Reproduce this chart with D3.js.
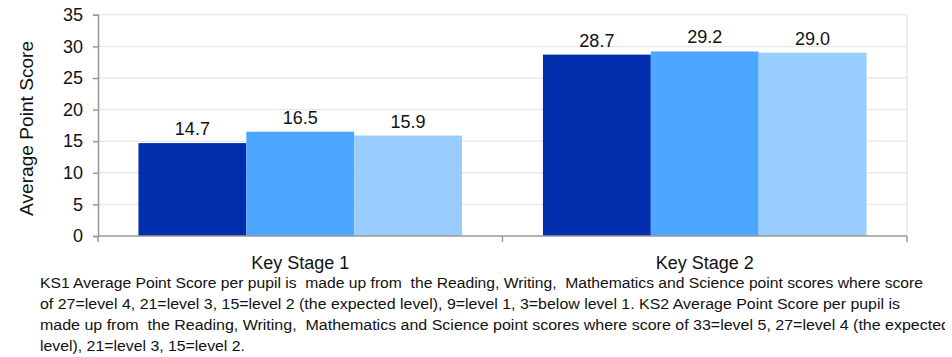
<!DOCTYPE html>
<html><head><meta charset="utf-8">
<script src="https://cdn.jsdelivr.net/npm/d3@7"></script>
<style>body{margin:0;background:#fff}svg{display:block;font-family:"Liberation Sans",Arial,sans-serif}</style>
</head><body><svg id="c" width="952" height="357"></svg>
<script>
const categories = ["Key Stage 1", "Key Stage 2"];
const seriesNames = ["School", "Local Authority", "National"];
const school = [14.7, 28.7];
const localAuthority = [16.5, 29.2];
const national = [15.9, 29.0];
const yTicks = [0, 5, 10, 15, 20, 25, 30, 35];
const yTitle = "Average Point Score";
const footnoteLines = [
  "KS1 Average Point Score per pupil is  made up from  the Reading, Writing,  Mathematics and Science point scores where score",
  "of 27=level 4, 21=level 3, 15=level 2 (the expected level), 9=level 1, 3=below level 1. KS2 Average Point Score per pupil is",
  "made up from  the Reading, Writing,  Mathematics and Science point scores where score of 33=level 5, 27=level 4 (the expected",
  "level), 21=level 3, 15=level 2."
];
const colors = ["#002EAD", "#4DA6FF", "#99CCFF"];

const seriesVals = [school, localAuthority, national];
const svg = d3.select("#c");
const L = 98, R = 907, T = 14.8, B = 236;
const x = d3.scaleBand().domain(categories).range([L, R]).paddingInner(0.2).paddingOuter(0.1);
const xs = d3.scaleBand().domain(seriesNames).range([0, x.bandwidth()]);
const y = d3.scaleLinear().domain([0, 35]).range([B, T]);

svg.append("defs").append("clipPath").attr("id", "fnclip")
  .append("rect").attr("x", 0).attr("y", 260).attr("width", 945).attr("height", 97);

// gridlines
svg.append("g").selectAll("line").data(yTicks.filter(d => d > 0)).join("line")
  .attr("x1", L).attr("x2", R).attr("y1", d => y(d)).attr("y2", d => y(d))
  .attr("stroke", "#e9e9e9").attr("stroke-width", 1.5);
svg.append("line").attr("x1", R).attr("x2", R).attr("y1", y(35)).attr("y2", B)
  .attr("stroke", "#e9e9e9").attr("stroke-width", 1.5);

// bars
const g = svg.append("g");
categories.forEach((c, ci) => {
  seriesNames.forEach((s, si) => {
    const v = seriesVals[si][ci];
    g.append("rect").attr("x", x(c) + xs(s)).attr("width", xs.bandwidth())
      .attr("y", y(v)).attr("height", B - y(v)).attr("fill", colors[si]);
    g.append("text").attr("x", x(c) + xs(s) + xs.bandwidth() / 2).attr("y", y(v) - 8)
      .attr("text-anchor", "middle").attr("font-size", 18).attr("fill", "#111")
      .text(v.toFixed(1));
  });
});

// y axis
const ya = svg.append("g").attr("transform", `translate(${L},0)`)
  .call(d3.axisLeft(y).tickValues(yTicks).tickSize(5).tickPadding(10));
ya.select(".domain").attr("stroke", "#999").attr("stroke-width", 1.5);
ya.selectAll(".tick line").attr("stroke", "#999").attr("stroke-width", 1.5);
ya.selectAll(".tick text").attr("font-size", 18).attr("fill", "#111").attr("font-family", "Liberation Sans, Arial, sans-serif");

// x axis
const xa = svg.append("g").attr("transform", `translate(0,${B})`);
xa.append("line").attr("x1", L).attr("x2", R).attr("stroke", "#999").attr("stroke-width", 1.5);
const bounds = [L, (x(categories[0]) + x.bandwidth() + x(categories[1])) / 2, R];
xa.selectAll(".bt").data(bounds).join("line").attr("class", "bt")
  .attr("x1", d => d).attr("x2", d => d).attr("y1", 0).attr("y2", 6)
  .attr("stroke", "#999").attr("stroke-width", 1.5);
xa.selectAll(".cl").data(categories).join("text").attr("class", "cl")
  .attr("x", d => x(d) + x.bandwidth() / 2).attr("y", 33)
  .attr("text-anchor", "middle").attr("font-size", 18).attr("fill", "#111").text(d => d);

// y title
svg.append("text").attr("transform", `translate(33,${(T + B) / 2 + 3}) rotate(-90)`)
  .attr("text-anchor", "middle").attr("font-size", 18).attr("fill", "#111")
  .attr("textLength", 175).attr("lengthAdjust", "spacingAndGlyphs").text(yTitle);

// footnote
const lens = [883, 860, 910, 205];
const fn = svg.append("g").attr("clip-path", "url(#fnclip)");
footnoteLines.forEach((t, i) => {
  fn.append("text").attr("x", 40).attr("y", 288 + i * 21)
    .attr("font-size", 15.5).attr("fill", "#111").attr("xml:space", "preserve")
    .attr("textLength", lens[i]).attr("lengthAdjust", "spacingAndGlyphs").text(t);
});
</script></body></html>
